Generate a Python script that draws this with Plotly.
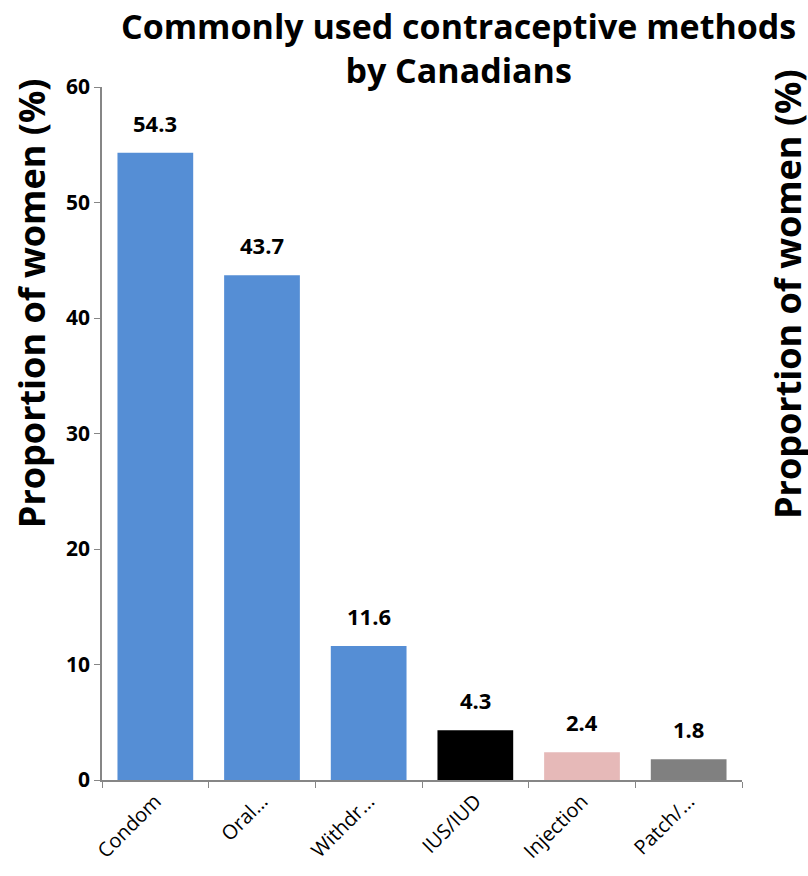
import plotly.graph_objects as go

# Survey results: share of women using each contraceptive method
methods = ["Condom", "Oral...", "Withdr...", "IUS/IUD", "Injection", "Patch/..."]
percent = [54.3, 43.7, 11.6, 4.3, 2.4, 1.8]
bar_colors = ["#558ED5", "#558ED5", "#558ED5", "#000000", "#E6B9B8", "#808080"]
y_ticks = [0, 10, 20, 30, 40, 50, 60]

axis_grey = "#868686"
font_family = "Open Sans, Noto Sans, sans-serif"

fig = go.Figure(
    go.Bar(
        x=methods,
        y=percent,
        marker=dict(color=bar_colors, line=dict(width=0)),
        width=0.71,
        hoverinfo="x+y",
    )
)

# Value labels above each bar
for m, v in zip(methods, percent):
    fig.add_annotation(
        x=m, y=v, text=f"<b>{v:.1f}</b>", showarrow=False,
        yanchor="bottom", yshift=13,
        font=dict(family=font_family, size=22, color="black"),
    )

# Chart title
fig.add_annotation(
    xref="paper", yref="paper", x=0.557, y=1.0563,
    text="<b>Commonly used contraceptive methods<br>by Canadians</b>",
    showarrow=False, xanchor="center", yanchor="middle",
    font=dict(family=font_family, size=34, color="black"),
)

y_title = "<b>Proportion of women (%)</b>"
fig.add_annotation(
    xref="paper", yref="paper", x=-0.111, y=0.688, text=y_title,
    textangle=-90, showarrow=False, xanchor="center", yanchor="middle",
    font=dict(family=font_family, size=36, color="black"),
)
fig.add_annotation(
    xref="paper", yref="paper", x=1.070, y=0.701, text=y_title,
    textangle=-90, showarrow=False, xanchor="center", yanchor="middle",
    font=dict(family=font_family, size=36, color="black"),
)

fig.update_layout(
    width=808, height=876,
    margin=dict(l=102, r=66, t=87, b=96, autoexpand=False),
    paper_bgcolor="white", plot_bgcolor="white",
    showlegend=False,
    xaxis=dict(
        tickangle=-45, tickson="boundaries", ticks="outside", ticklen=6,
        tickcolor=axis_grey, showline=True, linecolor=axis_grey, linewidth=1.5,
        tickfont=dict(family=font_family, size=20, color="black"),
        showgrid=False,
    ),
    yaxis=dict(
        range=[0, 60], tickvals=y_ticks, ticktext=[f"<b>{t}</b>" for t in y_ticks],
        ticks="outside", ticklen=6, tickcolor=axis_grey,
        showline=True, linecolor=axis_grey, linewidth=1.5,
        tickfont=dict(family=font_family, size=21, color="black"),
        showgrid=False, zeroline=False,
    ),
)

fig.write_html("out.html")
